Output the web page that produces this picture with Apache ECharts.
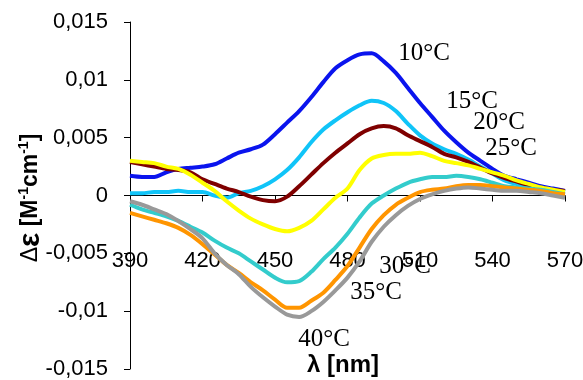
<!DOCTYPE html>
<html><head><meta charset="utf-8">
<script src="https://cdn.jsdelivr.net/npm/echarts@6/dist/echarts.min.js"></script>
<style>html,body{margin:0;padding:0;background:#fff}#c{width:583px;height:380px}</style>
</head><body><div id="c"></div>
<script>
const wavelengths = [390,395,400,405,410,415,420,425,430,435,440,445,450,455,460,465,470,475,480,485,490,495,500,505,510,515,520,525,530,535,540,545,550,555,560,565,570];
const t10 = [0.0017,0.0016,0.0016,0.0020,0.0023,0.0024,0.0025,0.0027,0.0032,0.0037,0.0040,0.0044,0.0053,0.0063,0.0073,0.0085,0.0098,0.0110,0.0117,0.0122,0.0123,0.0116,0.0106,0.0093,0.0080,0.0068,0.0056,0.0046,0.0037,0.0030,0.0023,0.0017,0.0014,0.0011,0.0008,0.0006,0.0004];
const t15 = [0.0002,0.0002,0.0003,0.0003,0.0004,0.0003,0.0003,0.0000,-0.0002,0.0002,0.0004,0.0008,0.0014,0.0022,0.0033,0.0046,0.0057,0.0065,0.0072,0.0078,0.0082,0.0080,0.0073,0.0062,0.0052,0.0045,0.0040,0.0036,0.0031,0.0025,0.0019,0.0013,0.0010,0.0008,0.0007,0.0005,0.0003];
const t20 = [0.0029,0.0027,0.0025,0.0023,0.0022,0.0020,0.0014,0.0010,0.0006,0.0003,-0.0001,-0.0004,-0.0005,-0.0001,0.0008,0.0018,0.0028,0.0037,0.0045,0.0053,0.0058,0.0060,0.0058,0.0052,0.0047,0.0042,0.0036,0.0033,0.0029,0.0024,0.0019,0.0015,0.0012,0.0009,0.0007,0.0005,0.0004];
const t25 = [0.0030,0.0029,0.0028,0.0025,0.0023,0.0018,0.0011,0.0004,-0.0005,-0.0013,-0.0020,-0.0025,-0.0029,-0.0031,-0.0028,-0.0022,-0.0012,-0.0002,0.0006,0.0022,0.0032,0.0035,0.0036,0.0036,0.0037,0.0034,0.0030,0.0028,0.0026,0.0023,0.0020,0.0017,0.0013,0.0010,0.0007,0.0005,0.0003];
const t30 = [-0.0008,-0.0012,-0.0015,-0.0018,-0.0022,-0.0027,-0.0032,-0.0039,-0.0045,-0.0050,-0.0057,-0.0064,-0.0071,-0.0075,-0.0074,-0.0066,-0.0055,-0.0045,-0.0033,-0.0019,-0.0007,0.0000,0.0006,0.0011,0.0014,0.0016,0.0016,0.0017,0.0016,0.0014,0.0011,0.0008,0.0007,0.0006,0.0005,0.0003,0.0001];
const t35 = [-0.0015,-0.0018,-0.0021,-0.0024,-0.0028,-0.0034,-0.0042,-0.0051,-0.0060,-0.0067,-0.0075,-0.0082,-0.0090,-0.0097,-0.0097,-0.0091,-0.0084,-0.0073,-0.0061,-0.0045,-0.0029,-0.0017,-0.0008,-0.0002,0.0003,0.0005,0.0006,0.0008,0.0009,0.0009,0.0008,0.0007,0.0006,0.0005,0.0004,0.0002,0.0001];
const t40 = [-0.0005,-0.0008,-0.0012,-0.0016,-0.0022,-0.0029,-0.0037,-0.0050,-0.0060,-0.0068,-0.0079,-0.0088,-0.0096,-0.0103,-0.0105,-0.0100,-0.0092,-0.0082,-0.0071,-0.0057,-0.0040,-0.0027,-0.0017,-0.0009,-0.0003,0.0001,0.0004,0.0006,0.0007,0.0006,0.0005,0.0004,0.0004,0.0003,0.0002,0.0000,-0.0002];
const seriesNames = ['10°C','15°C','20°C','25°C','30°C','35°C','40°C'];
const seriesValues = [t10,t15,t20,t25,t30,t35,t40];
const colors = ['#0A14EE','#10C4F8','#7F0000','#FFFF00','#33CCCC','#FF9500','#999999'];
const labelPos = [[424,53],[472,101],[499,122],[511,148],[405,266],[376,292],[324,339]];

const W = 583, H = 380;
const Y_MIN = -0.015, Y_MAX = 0.015;
const wideBounds = {left:-60, right:-60, top:-60, bottom:-60};
const gridMain = {left:130, right:18, top:22, bottom:11, outerBounds:wideBounds};
// pixel row of y = 0 inside the main grid (linear value axis)
const yZero = gridMain.top + (Y_MAX - 0) / (Y_MAX - Y_MIN) * (H - gridMain.top - gridMain.bottom);

const chart = echarts.init(document.getElementById('c'), null, {renderer:'canvas'});
const series = seriesNames.map((n,i)=>({
  name:n, type:'line', showSymbol:false, smooth:0.3, xAxisIndex:0, yAxisIndex:0,
  data: wavelengths.map((w,k)=>[w, seriesValues[i][k]]),
  lineStyle:{color:colors[i], width:4}, itemStyle:{color:colors[i]}, z:2+i
}));
const graphics = seriesNames.map((n,i)=>({
  type:'text', x:labelPos[i][0], y:labelPos[i][1], z:100,
  style:{text:n, font:'25px "Liberation Serif"', fill:'#000', align:'center', verticalAlign:'middle', textAlign:'center', textVerticalAlign:'middle'}
}));
graphics.push({
  type:'text', x:343, y:365, z:100,
  style:{text:'λ [nm]', font:'bold 24px "Liberation Sans"', fill:'#000', align:'center', verticalAlign:'middle', textAlign:'center', textVerticalAlign:'middle'}
});
graphics.push({
  type:'text', x:31, y:198, rotation:Math.PI/2, z:100,
  style:{
    text:'{d|Δ}{e|ε}{b| [M}{s|-1}{b|cm}{s|-1}{b|]}',
    align:'center', verticalAlign:'middle', textAlign:'center', textVerticalAlign:'middle',
    rich:{
      d:{font:'23px "Liberation Sans"', fill:'#000', color:'#000', lineHeight:28},
      e:{font:'bold 30px "Liberation Sans"', fill:'#000', color:'#000', lineHeight:28},
      b:{font:'bold 23px "Liberation Sans"', fill:'#000', color:'#000', lineHeight:28},
      s:{font:'bold 14px "Liberation Sans"', fill:'#000', color:'#000', lineHeight:28, verticalAlign:'top', padding:[0,0,10,0]}
    }
  }
});
const xCommon = {type:'value', min:390, max:570, interval:30, splitLine:{show:false}};
const yFmt = v=>{const r=Math.round(v*1000)/1000; return r===0?'0':String(r).replace('.',',');};

chart.setOption({
  animation:false,
  backgroundColor:'#fff',
  grid:[gridMain, {left:gridMain.left, right:gridMain.right, top:gridMain.top, bottom:H - yZero, outerBounds:wideBounds}],
  xAxis:[Object.assign({gridIndex:0, show:false}, xCommon),
    Object.assign({gridIndex:1, position:'bottom',
      axisLine:{show:true, onZero:false, lineStyle:{color:'#000', width:1}},
      axisTick:{show:true, inside:false, length:6, lineStyle:{color:'#000'}},
      axisLabel:{color:'#000', fontSize:22, fontFamily:'Liberation Sans', margin:54}}, xCommon)],
  yAxis:[{type:'value', gridIndex:0, min:Y_MIN, max:Y_MAX, interval:0.005, position:'left',
    axisLine:{show:true, onZero:false, lineStyle:{color:'#000', width:1}},
    axisTick:{show:true, inside:false, length:6, lineStyle:{color:'#000'}},
    axisLabel:{color:'#000', fontSize:22, fontFamily:'Liberation Sans', margin:22, formatter:yFmt},
    splitLine:{show:false}},
    {type:'value', gridIndex:1, min:0, max:1, show:false}],
  series:series,
  graphic:graphics
});
</script></body></html>
